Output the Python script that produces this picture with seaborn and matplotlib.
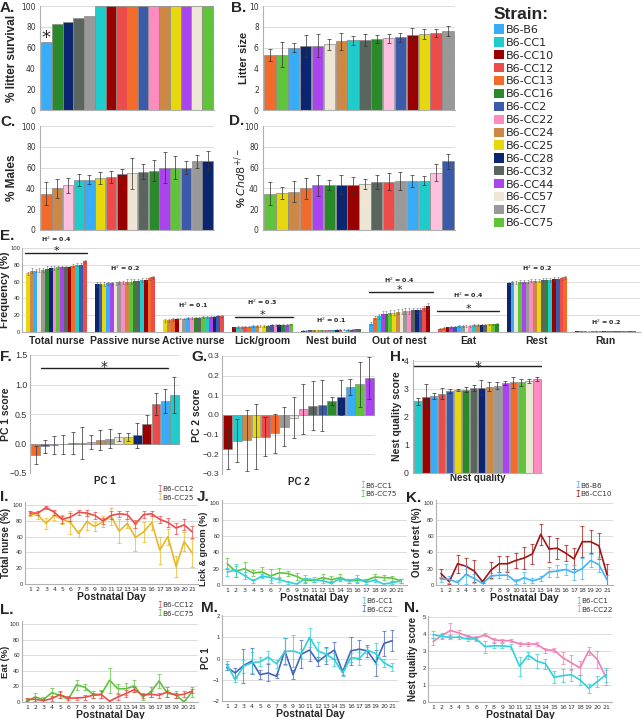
import numpy as np
import pandas as pd
import matplotlib
matplotlib.use('Agg')
import matplotlib.pyplot as plt
import seaborn as sns
from matplotlib.patches import Patch

sns.set_theme(style='white')
plt.rcParams['font.family'] = ['DejaVu Sans']

# strain colours (legend order)
strains = ['B6', 'CC1', 'CC10', 'CC12', 'CC13', 'CC16', 'CC2', 'CC22',
           'CC24', 'CC25', 'CC28', 'CC32', 'CC44', 'CC57', 'CC7', 'CC75']
strain_colors = ['#38acf7', '#1fcccc', '#990000', '#ee4b4b', '#f26b2b', '#2a8a2a',
                 '#3b5baa', '#ff8cc0', '#cc8844', '#e6d80c', '#0c2570', '#5a655e',
                 '#aa44ee', '#eee6d4', '#999999', '#60c43a']
pal = dict(zip(strains, strain_colors))
pal_light = dict(pal, CC22='#ffbfdf')

# A. litter survival
A_order = ['B6', 'CC16', 'CC28', 'CC32', 'CC7', 'CC1', 'CC10', 'CC12', 'CC13', 'CC2',
           'CC22', 'CC24', 'CC25', 'CC44', 'CC57', 'CC75']
A_val = [65, 83, 85, 88, 90, 100, 100, 100, 100, 100, 100, 100, 100, 100, 100, 100]

# B. litter size
B_order = ['CC13', 'CC75', 'B6', 'CC28', 'CC44', 'CC57', 'CC24', 'CC1', 'CC32', 'CC16',
           'CC22', 'CC2', 'CC10', 'CC25', 'CC12', 'CC7']
B_val = [5.3, 5.3, 6.0, 6.15, 6.2, 6.3, 6.6, 6.7, 6.75, 6.8, 6.9, 7.0, 7.25, 7.3, 7.4, 7.6]
B_err = [0.6, 1.2, 0.4, 1.1, 1.1, 0.5, 0.8, 0.45, 0.6, 0.4, 0.45, 0.45, 0.6, 0.5, 0.4, 0.5]

# C. % males
C_order = ['CC13', 'CC24', 'CC22', 'CC1', 'B6', 'CC25', 'CC12', 'CC10', 'CC57', 'CC32',
           'CC16', 'CC44', 'CC75', 'CC2', 'CC7', 'CC28']
C_val = [35, 40, 43, 48, 48.5, 50, 51, 54, 54.5, 56, 57, 60, 60, 60, 66, 66.5]
C_err = [11, 9, 7, 6, 4, 6, 6, 5, 15, 7, 10, 15, 11, 6, 6, 9]

# D. % Chd8+/-
D_order = ['CC75', 'CC25', 'CC24', 'CC13', 'CC44', 'CC16', 'CC28', 'CC10', 'CC57', 'CC32',
           'CC12', 'CC7', 'B6', 'CC1', 'CC22', 'CC2']
D_val = [35, 35.5, 37, 40, 43, 43, 43.5, 43.5, 44, 46, 46.5, 47, 47, 47.5, 55, 66]
D_err = [11, 6, 10, 10, 10, 5, 9, 7, 5, 7, 8, 9, 6, 4, 8, 7]

# E. behaviour frequencies
E_groups = ['Total nurse', 'Passive nurse', 'Active nurse', 'Lick/groom', 'Nest build',
            'Out of nest', 'Eat', 'Rest', 'Run']
E_h2 = ['0.4', '0.2', '0.1', '0.3', '0.1', '0.4', '0.4', '0.2', '0.2']
E_orders = [
    ['CC25', 'CC24', 'B6', 'CC57', 'CC7', 'CC16', 'CC28', 'CC22', 'CC75', 'CC44', 'CC32', 'CC10', 'CC13', 'CC1', 'CC2', 'CC12'],
    ['CC28', 'CC2', 'CC25', 'B6', 'CC44', 'CC57', 'CC7', 'CC22', 'CC24', 'CC75', 'CC16', 'CC32', 'CC1', 'CC10', 'CC13', 'CC12'],
    ['CC25', 'CC24', 'CC13', 'CC10', 'CC57', 'CC7', 'B6', 'CC22', 'CC16', 'CC32', 'CC75', 'CC1', 'CC44', 'CC28', 'CC2', 'CC12'],
    ['CC10', 'CC1', 'CC7', 'CC12', 'CC13', 'B6', 'CC24', 'CC57', 'CC25', 'CC32', 'CC2', 'CC22', 'CC28', 'CC16', 'CC44', 'CC75'],
    ['CC10', 'CC13', 'CC2', 'CC24', 'CC25', 'CC75', 'CC22', 'CC7', 'CC1', 'CC28', 'CC12', 'CC57', 'B6', 'CC32', 'CC44', 'CC16'],
    ['B6', 'CC13', 'CC1', 'CC44', 'CC16', 'CC75', 'CC25', 'CC24', 'CC57', 'CC7', 'CC22', 'CC32', 'CC28', 'CC2', 'CC12', 'CC10'],
    ['CC12', 'CC13', 'CC10', 'CC44', 'CC2', 'B6', 'CC7', 'CC57', 'CC22', 'CC1', 'CC24', 'CC28', 'CC32', 'CC25', 'CC75', 'CC16'],
    ['CC28', 'B6', 'CC57', 'CC75', 'CC44', 'CC7', 'CC22', 'CC24', 'CC25', 'CC32', 'CC16', 'CC1', 'CC10', 'CC2', 'CC12', 'CC13'],
    ['CC28', 'CC13', 'CC1', 'CC57', 'CC7', 'CC24', 'CC25', 'CC10', 'CC44', 'B6', 'CC32', 'CC16', 'CC75', 'CC22', 'CC2', 'CC12'],
]
E_vals = [
    [70, 73, 73, 74, 74, 75, 76, 76, 77, 77, 77, 77, 79, 80, 80, 84],
    [57, 57, 57, 58, 58, 58, 59, 59, 60, 60, 61, 61, 62, 62, 64, 65],
    [14, 14, 15, 15, 16, 16, 17, 17, 17, 17, 18, 18, 18, 18, 19, 19],
    [5.5, 6, 6, 6.5, 6.5, 7, 7, 7, 7.5, 7.5, 8, 8, 8, 8.5, 8.5, 9],
    [1.5, 1.6, 1.8, 2.0, 2.0, 2.1, 2.2, 2.3, 2.4, 2.5, 2.6, 2.7, 2.8, 2.9, 3.0, 3.2],
    [10, 17, 19, 21, 22, 23, 23, 24, 24, 25, 25, 26, 26, 26, 28, 31],
    [4, 5, 5.5, 6, 6.5, 7, 7, 7.5, 7.5, 8, 8, 8.5, 8.5, 9, 9, 9.5],
    [58, 59, 59, 60, 60, 60, 61, 61, 61, 62, 62, 62, 63, 63, 64, 65],
    [0.6, 0.7, 0.7, 0.8, 0.8, 0.9, 0.9, 1.0, 1.0, 1.0, 1.1, 1.1, 1.2, 1.2, 1.3, 1.4],
]
E_errs = [
    [2, 3, 2, 2, 2, 3, 2, 2, 2, 2, 2, 2, 2, 2, 2, 2],
    [3, 3, 2, 2, 2, 2, 2, 2, 3, 3, 2, 2, 2, 2, 2, 2],
    [2, 2, 2, 2, 1, 1, 1, 1, 1, 1, 1, 1, 1, 1, 1, 1],
    [1, 1, 1, 1, 1, 1, 1, 1, 1, 1, 1, 1, 1, 1, 1, 1],
    [0.5, 0.5, 0.5, 0.5, 0.5, 0.5, 0.5, 0.5, 0.5, 0.5, 0.5, 0.5, 0.5, 0.5, 0.5, 0.5],
    [2, 2, 3, 4, 3, 3, 3, 3, 3, 3, 3, 3, 3, 3, 3, 4],
    [1, 1, 1, 1, 1, 1, 1, 1, 1, 1, 1, 1, 1, 1, 1, 1],
    [2, 2, 2, 2, 2, 2, 2, 2, 2, 2, 2, 2, 2, 2, 2, 2],
    [0.3, 0.3, 0.3, 0.3, 0.3, 0.3, 0.3, 0.3, 0.3, 0.3, 0.3, 0.3, 0.3, 0.3, 0.3, 0.3],
]

# F. PC1 score
F_order = ['CC13', 'CC2', 'CC44', 'CC32', 'CC16', 'CC75', 'CC22', 'CC24', 'CC7', 'CC57',
           'CC25', 'CC28', 'CC10', 'CC12', 'B6', 'CC1']
F_val = [-0.2, -0.05, -0.03, -0.01, 0.01, 0.01, 0.03, 0.06, 0.08, 0.11, 0.11, 0.14, 0.33, 0.67, 0.72, 0.82]
F_err = [0.15, 0.11, 0.15, 0.16, 0.19, 0.27, 0.12, 0.17, 0.16, 0.06, 0.06, 0.21, 0.15, 0.19, 0.2, 0.3]

# G. PC2 score
G_order = ['CC10', 'CC1', 'CC24', 'CC25', 'CC12', 'CC13', 'CC7', 'CC57', 'CC22', 'CC32',
           'CC2', 'CC16', 'CC28', 'B6', 'CC75', 'CC44']
G_val = [-0.175, -0.13, -0.128, -0.11, -0.11, -0.093, -0.06, -0.014, 0.03, 0.047,
         0.05, 0.073, 0.09, 0.144, 0.156, 0.186]
G_err = [0.1, 0.11, 0.155, 0.165, 0.1, 0.1, 0.1, 0.105, 0.128, 0.125, 0.13, 0.02, 0.09, 0.04, 0.115, 0.107]

# H. nest quality
H_order = ['CC1', 'CC10', 'B6', 'CC12', 'CC2', 'CC25', 'CC16', 'CC32', 'CC28', 'CC24',
           'CC7', 'CC44', 'CC13', 'CC75', 'CC57', 'CC22']
H_val = [2.55, 2.72, 2.75, 2.82, 2.92, 2.95, 2.97, 3.03, 3.04, 3.07, 3.1, 3.2, 3.22, 3.23, 3.27, 3.35]
H_err = [0.12, 0.45, 0.1, 0.2, 0.08, 0.05, 0.08, 0.1, 0.28, 0.15, 0.12, 0.06, 0.2, 0.12, 0.08, 0.08]

# I-N. postnatal day time courses
days = np.arange(1, 22)
I_cc12 = [90, 90, 97, 91, 82, 85, 91, 90, 87, 80, 87, 89, 88, 76, 88, 89, 82, 78, 71, 75, 66]
I_cc12_err = [3, 3, 2, 3, 4, 5, 3, 4, 4, 4, 5, 4, 5, 5, 4, 3, 4, 6, 7, 7, 8]
I_cc25 = [89, 87, 77, 87, 82, 78, 64, 79, 73, 79, 86, 67, 77, 59, 66, 78, 43, 60, 22, 54, 39]
I_cc25_err = [3, 5, 7, 6, 6, 14, 5, 10, 6, 7, 11, 15, 6, 17, 13, 10, 17, 10, 13, 12, 18]

J_cc1 = [16, 18, 11.5, 5, 11, 9, 6.5, 3.5, 1.2, 7.7, 6.5, 5, 2.4, 7.7, 5, 7.7, 3.6, 5.7, 1.2, 2.8, 5]
J_cc1_err = [5, 8, 4, 2, 3, 3, 3, 2, 1, 4, 3, 2, 2, 2, 2, 4, 2, 2, 1, 2, 2]
J_cc75 = [26, 16.5, 20, 14.5, 16, 11, 15, 14, 10.5, 5.7, 5.7, 9, 6.5, 9, 5, 5.7, 5.7, 9.7, 9, 8.5, 5]
J_cc75_err = [7, 7, 8, 4, 6, 8, 6, 3, 4, 3, 2, 4, 4, 4, 2, 3, 2, 4, 3, 3, 2]

K_b6 = [7, 7, 3, 13, 8, 2, 11, 12, 12, 4, 9, 5, 8, 16, 17, 19, 15, 20, 30, 25, 6]
K_b6_err = [3, 4, 3, 12, 5, 2, 4, 4, 5, 3, 7, 3, 3, 6, 7, 7, 9, 13, 8, 9, 6]
K_cc10 = [14, 4, 26, 23, 17, 4, 18, 26, 26, 30, 33, 38, 62, 44, 45, 39, 32, 53, 53, 48, 12]
K_cc10_err = [5, 3, 11, 10, 13, 2, 10, 10, 10, 9, 14, 12, 13, 16, 13, 10, 13, 19, 14, 16, 14]

L_cc12 = [3.4, 3.4, 1.7, 4.3, 9.5, 5, 5, 6, 8.6, 9.5, 1, 6.5, 11, 16, 8.6, 10, 8.6, 13, 8.6, 10, 14]
L_cc12_err = [2, 3, 2, 3, 4, 3, 2, 3, 3, 4, 2, 4, 5, 3, 3, 4, 3, 6, 3, 4, 3]
L_cc75 = [1, 6.5, 3, 12, 8.6, 3.4, 22, 19, 9.5, 10, 28, 17, 17, 20.7, 6.5, 13, 27, 11, 9.5, 0, 13]
L_cc75_err = [2, 5, 3, 6, 4, 3, 6, 4, 5, 5, 16, 6, 8, 8, 4, 6, 9, 4, 5, 2, 6]

M_cc1 = [-0.28, -1.0, -0.36, -0.2, -0.15, 0.07, -0.25, 0.33, 0.36, 0.23, 1.0, 0.36, 0.2,
         -0.05, -0.68, 0.04, 0.0, 0.4, 0.23, -0.2, -0.41]
M_cc1_err = [0.15, 0.1, 0.3, 0.5, 0.2, 0.3, 0.2, 0.65, 0.75, 0.2, 0.45, 0.4, 0.3, 0.3, 0.15,
             0.2, 0.3, 0.15, 0.5, 0.2, 0.2]
M_cc2 = [-0.41, -0.68, -0.33, -0.12, -0.76, -0.68, -0.84, 0.36, -0.76, 0.2, 0.4, -0.15, 0.15,
         0.4, -0.63, 0.36, 0.44, 0.36, -0.2, 0.71, 0.84]
M_cc2_err = [0.15, 0.25, 0.8, 0.6, 0.2, 0.4, 0.1, 0.6, 0.2, 0.65, 0.5, 0.2, 0.4, 0.4, 0.15,
             0.65, 0.45, 0.3, 0.6, 0.6, 0.5]

N_cc1 = [3.95, 3.85, 3.8, 3.8, 3.7, 3.7, 3.25, 3.3, 3.3, 3.25, 2.1, 2.75, 2.4, 2.25, 1.45,
         1.55, 1.6, 1.3, 0.8, 1.2, 1.6]
N_cc1_err = [0.2, 0.15, 0.12, 0.1, 0.1, 0.1, 0.35, 0.15, 0.15, 0.15, 0.55, 0.2, 0.4, 0.3,
             0.35, 0.4, 0.35, 0.3, 0.25, 0.3, 0.4]
N_cc22 = [3.55, 3.9, 4.2, 4.05, 3.85, 3.75, 3.95, 3.65, 3.6, 3.6, 3.4, 3.4, 3.4, 3.05, 3.05,
          2.6, 2.3, 2.0, 3.0, 2.5, 1.45]
N_cc22_err = [0.2, 0.15, 0.45, 0.2, 0.1, 0.1, 0.1, 0.1, 0.1, 0.1, 0.1, 0.1, 0.1, 0.15, 0.1,
              0.35, 0.45, 0.4, 0.25, 0.5, 0.45]

W, H = 643, 719
fig = plt.figure(figsize=(W / 100, H / 100), dpi=100)
LAB = 'Liberation Sans'


def box(l, t, r, b):
    return [l / W, 1 - b / H, (r - l) / W, (b - t) / H]


def style(ax, tick_size=5.5):
    for s in ['top', 'right']:
        ax.spines[s].set_visible(False)
    for s in ['left', 'bottom']:
        ax.spines[s].set_color('#b0b0b0')
        ax.spines[s].set_linewidth(0.8)
    ax.grid(axis='y', color='#dcdcdc', lw=0.7)
    ax.set_axisbelow(True)
    ax.tick_params(axis='y', labelsize=tick_size, colors='#333333', length=0, pad=3)
    ax.tick_params(axis='x', length=0)


def ylab(ax, text, right_px, left_px, width_px, size=8, yc=0.5):
    ax.set_ylabel(text, fontsize=size, fontweight='bold', family=LAB)
    ax.yaxis.set_label_coords((right_px - left_px) / width_px, yc)


def letter(x, y, s):
    fig.text(x / W, 1 - y / H, s, fontsize=11, fontweight='bold', family=LAB,
             va='center', ha='left')


def star(ax, x, y, size=10):
    # centre the asterisk glyph on (x, y)
    ax.annotate('*', (x, y), xytext=(0, -0.62 * size), textcoords='offset points',
                ha='center', va='baseline', fontsize=size, annotation_clip=False)


def bar_panel(ax, order, vals, errs, width=0.95, colors=pal):
    df = pd.DataFrame({'strain': order, 'val': vals})
    sns.barplot(data=df, x='strain', y='val', hue='strain', order=order, hue_order=order,
                palette=colors, legend=False, ax=ax, width=width, saturation=1,
                edgecolor='#8a8a8a', linewidth=0.5, errorbar=None)
    if errs is not None:
        ax.errorbar(np.arange(len(order)), vals, yerr=errs, fmt='none', ecolor='#333333',
                    elinewidth=0.6, capsize=1.5, capthick=0.6, alpha=0.85)
    ax.set_xlabel('')
    ax.set_xticks([])
    ax.set_xlim(-0.6, len(order) - 0.4)


# A
ax = fig.add_axes(box(40, 6, 214, 110))
bar_panel(ax, A_order, A_val, None, width=1.0)
ax.set_ylim(0, 100)
ax.set_yticks(range(0, 101, 20))
style(ax, 5.5)
ylab(ax, '% litter survival', 18, 40, 174, 8.5)
star(ax, 0, 75.5, 13)
letter(0, 8, 'A.')

# B
ax = fig.add_axes(box(263, 6, 455, 110))
bar_panel(ax, B_order, B_val, B_err, colors=pal_light)
ax.set_ylim(0, 10)
ax.set_yticks(range(0, 11, 2))
style(ax, 5.5)
ylab(ax, 'Litter size', 249, 263, 192, 8)
letter(231, 8, 'B.')

# C
ax = fig.add_axes(box(40, 126, 214, 230))
bar_panel(ax, C_order, C_val, C_err, colors=pal_light)
ax.set_ylim(0, 100)
ax.set_yticks(range(0, 101, 20))
style(ax, 5.5)
ylab(ax, '% Males', 18, 40, 174, 8.5)
letter(0, 122, 'C.')

# D
ax = fig.add_axes(box(263, 126, 455, 230))
bar_panel(ax, D_order, D_val, D_err, colors=pal_light)
ax.set_ylim(0, 100)
ax.set_yticks(range(0, 101, 20))
style(ax, 5.5)
ylab(ax, r'% $\it{Chd8}^{+/-}$', 249, 263, 192, 8)
letter(229, 121, 'D.')

# legend
handles = [Patch(facecolor=pal[s], edgecolor='none', label='B6-' + s if s != 'B6' else 'B6-B6')
           for s in strains]
fig.legend(handles=handles, loc='upper left', bbox_to_anchor=(494 / W, 1 - 7 / H),
           title='Strain:', frameon=False, fontsize=8, alignment='left',
           title_fontproperties={'weight': 'bold', 'size': 12.5, 'family': LAB},
           handlelength=0.9, handleheight=0.9, handletextpad=0.15, labelspacing=0.22,
           borderpad=0, borderaxespad=0)

# E
ax = fig.add_axes(box(22, 248, 640, 332))
bw = 0.88 / 16
for gi in range(len(E_groups)):
    xs = gi + 0.06 + bw * (np.arange(16) + 0.5)
    ax.bar(xs, E_vals[gi], width=bw, color=[pal[s] for s in E_orders[gi]], edgecolor='none')
    ax.errorbar(xs, E_vals[gi], yerr=E_errs[gi], fmt='none', ecolor='#555555',
                elinewidth=0.4, capsize=0.7, capthick=0.4, alpha=0.8)
ax.set_xlim(0, 9)
ax.set_ylim(0, 100)
ax.set_yticks(range(0, 101, 20))
ax.set_xticks(np.arange(9) + 0.5)
ax.set_xticklabels(E_groups, fontsize=7.5, fontweight='bold', family=LAB)
ax.tick_params(axis='x', pad=3)
style(ax, 4.2)
ax.tick_params(axis='y', pad=1.5)
for t in ax.get_yticklabels():
    t.set_family(LAB)
ylab(ax, 'Frequency (%)', 10, 22, 618, 8)
h2_y = [110, 76, 32, 35, 13.5, 61, 44, 76, 12]
sig = {0: (94, 0.04, 0.95), 3: (18, 3.1, 3.95), 5: (47.5, 5.05, 5.98), 6: (25, 6.05, 6.95)}
for gi in range(9):
    ax.text(gi + 0.5, h2_y[gi], 'H$^2$ = ' + E_h2[gi], ha='center', va='center', fontsize=4.5,
            fontweight='bold', clip_on=False)
for gi, (yy, x0, x1) in sig.items():
    ax.plot([x0, x1], [yy, yy], color='#222222', lw=1, clip_on=False)
    star(ax, gi + 0.5, yy + 7, 8)
letter(0, 236, 'E.')

# F
ax = fig.add_axes(box(30, 355, 180, 473))
bar_panel(ax, F_order, F_val, F_err)
ax.set_ylim(-0.5, 1.5)
ax.set_yticks([-0.5, 0, 0.5, 1.0, 1.5])
ax.set_yticklabels(['\u22120.5', '0.0', '0.5', '1.0', '1.5'], family=LAB)
style(ax, 6.3)
ax.tick_params(axis='y', pad=2)
ax.spines['bottom'].set_visible(False)
ylab(ax, 'PC 1 score', 11, 30, 150, 7.5)
ax.set_xlabel('PC 1', fontsize=7, fontweight='bold', family=LAB, labelpad=2)
ax.plot([0.6, 14.3], [1.285, 1.285], color='#222222', lw=1)
star(ax, 7.4, 1.37, 10)
letter(0, 357, 'F.')

# G
ax = fig.add_axes(box(222, 356, 375, 474))
bar_panel(ax, G_order, G_val, G_err)
ax.set_ylim(-0.3, 0.3)
ax.set_yticks([-0.3, -0.2, -0.1, 0, 0.1, 0.2, 0.3])
ax.set_yticklabels(['\u22120.3', '\u22120.2', '\u22120.1', '0.0', '0.1', '0.2', '0.3'], family=LAB)
style(ax, 6)
ax.tick_params(axis='y', pad=2)
ax.spines['bottom'].set_visible(False)
ylab(ax, 'PC 2 score', 202, 222, 153, 7.5)
ax.set_xlabel('PC 2', fontsize=7, fontweight='bold', family=LAB, labelpad=2)
letter(191, 357, 'G.')

# H
ax = fig.add_axes(box(413, 360, 542, 473))
bar_panel(ax, H_order, H_val, H_err)
ax.set_ylim(0, 4.02)
ax.set_yticks(range(0, 5))
ax.set_yticklabels([str(v) for v in range(5)], family=LAB)
style(ax, 6.3)
ylab(ax, 'Nest quality score', 402, 413, 129, 7.5)
ax.set_xlabel('Nest quality', fontsize=7, fontweight='bold', family=LAB, labelpad=0)
ax.plot([-0.6, 15.6], [3.79, 3.79], color='#222222', lw=1)
star(ax, 7.6, 3.95, 10)
letter(390, 357, 'H.')


def line_panel(ax, s1, e1, c1, s2, e2, c2, names, leg_xy):
    for s, e, c in [(s2, e2, c2), (s1, e1, c1)]:
        sns.lineplot(x=days, y=s, color=c, lw=1.2, ax=ax)
        ax.errorbar(days, s, yerr=e, fmt='none', ecolor=c, elinewidth=0.8, capsize=1.3,
                    capthick=0.8, alpha=0.7)
    ax.set_xlim(0.4, 21.7)
    ax.set_xticks(days)
    style(ax, 4.3)
    ax.tick_params(axis='y', pad=1.5)
    for t in ax.get_yticklabels():
        t.set_family(LAB)
    ax.tick_params(axis='x', labelsize=4.5, colors='#333333', pad=2)
    ax.set_xlabel('Postnatal Day', fontsize=7.5, fontweight='bold', family=LAB, labelpad=0)
    lx, ly = leg_xy
    for k, (nm, c) in enumerate([(names[0], c1), (names[1], c2)]):
        fig.text(lx / W, 1 - (ly + 8.5 * k) / H, 'I', color=c, fontsize=5.5,
                 family='DejaVu Sans Mono', va='center')
        fig.text((lx + 5) / W, 1 - (ly + 8.5 * k) / H, nm, color='#333333', fontsize=5.2,
                 va='center')


red = '#ee4b4b'
gold = '#e8b82a'
teal = '#33d0d8'
green = '#5ec43a'
lblue = '#40b4f5'
dred = '#a01414'
blue2 = '#4466bb'
pink = '#f07fb5'

# I
ax = fig.add_axes(box(25, 502, 198, 584))
ax.set_ylim(0, 104)
ax.set_yticks(range(0, 101, 20))
line_panel(ax, I_cc12, I_cc12_err, red, I_cc25, I_cc25_err, gold, ['B6-CC12', 'B6-CC25'], (157, 489))
ylab(ax, 'Total nurse (%)', 11, 25, 173, 7)
letter(0, 497, 'I.')

# J
ax = fig.add_axes(box(222, 500, 407, 585))
ax.set_ylim(0, 104)
ax.set_yticks(range(0, 101, 20))
line_panel(ax, J_cc1, J_cc1_err, teal, J_cc75, J_cc75_err, green, ['B6-CC1', 'B6-CC75'], (360, 486))
ylab(ax, 'Lick & groom (%)', 208, 222, 185, 6.5, yc=0.42)
letter(197, 497, 'J.')

# K
ax = fig.add_axes(box(436, 500, 613, 585))
ax.set_ylim(0, 104)
ax.set_yticks(range(0, 101, 20))
line_panel(ax, K_b6, K_b6_err, lblue, K_cc10, K_cc10_err, dred, ['B6-B6', 'B6-CC10'], (575, 486))
ylab(ax, 'Out of nest (%)', 422, 436, 177, 7)
letter(406, 498, 'K.')

# L
ax = fig.add_axes(box(22, 621, 198, 702))
ax.set_ylim(0, 104)
ax.set_yticks(range(0, 101, 20))
line_panel(ax, L_cc12, L_cc12_err, red, L_cc75, L_cc75_err, green, ['B6-CC12', 'B6-CC75'], (157, 605))
ylab(ax, 'Eat (%)', 9.5, 22, 176, 6.8)
letter(0, 610, 'L.')

# M
ax = fig.add_axes(box(222, 615, 398, 701))
ax.set_ylim(-2, 2.05)
ax.set_yticks(range(-2, 3))
ax.set_yticklabels(['\u22122', '\u22121', '0', '1', '2'])
line_panel(ax, M_cc1, M_cc1_err, teal, M_cc2, M_cc2_err, blue2, ['B6-CC1', 'B6-CC2'], (361, 601))
ylab(ax, 'PC 1', 211, 222, 176, 7)
letter(201, 608, 'M.')

# N
ax = fig.add_axes(box(428, 616, 612, 702))
ax.set_ylim(0, 5.05)
ax.set_yticks(range(0, 6))
line_panel(ax, N_cc1, N_cc1_err, teal, N_cc22, N_cc22_err, pink, ['B6-CC1', 'B6-CC22'], (576, 601))
ylab(ax, 'Nest quality score', 418, 428, 184, 7)
letter(404, 608, 'N.')

fig.savefig('out.png', dpi=100)
